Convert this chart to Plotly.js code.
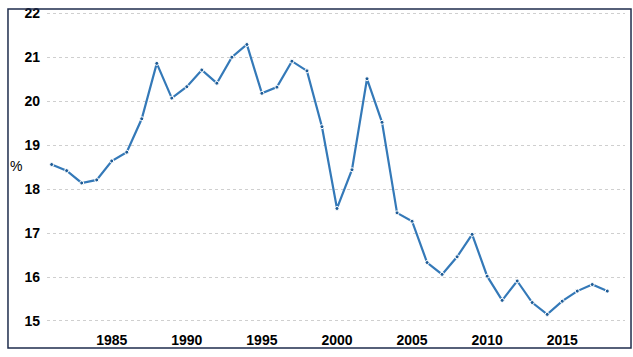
<!DOCTYPE html>
<html>
<head>
<meta charset="utf-8">
<script src="https://cdn.plot.ly/plotly-3.0.1.min.js"></script>
<style>html,body{margin:0;padding:0;background:#fff;}#chart{width:633px;height:357px;}</style>
</head>
<body>
<div id="chart"></div>
<script>
const years = [1981,1982,1983,1984,1985,1986,1987,1988,1989,1990,1991,1992,1993,1994,1995,1996,1997,1998,1999,2000,2001,2002,2003,2004,2005,2006,2007,2008,2009,2010,2011,2012,2013,2014,2015,2016,2017,2018];
const values = [18.56,18.42,18.14,18.21,18.64,18.84,19.60,20.86,20.07,20.33,20.71,20.41,21.00,21.29,20.18,20.32,20.91,20.69,19.42,17.56,18.44,20.51,19.52,17.46,17.27,16.33,16.06,16.46,16.97,16.02,15.47,15.91,15.42,15.15,15.45,15.68,15.83,15.68];
const xTicks = [1985,1990,1995,2000,2005,2010,2015];
const yTicks = [15,16,17,18,19,20,21,22];
const unitLabel = '%';

const trace = {
  x: years, y: values, type: 'scatter', mode: 'lines+markers',
  line: {color: '#3479b8', width: 2.2},
  marker: {color: '#1f5c96', size: 4, line: {color: '#ffffff', width: 1}},
  hoverinfo: 'skip'
};

const layout = {
  width: 633, height: 357,
  margin: {l: 47, r: 8, t: 11, b: 27, pad: 0},
  paper_bgcolor: '#ffffff', plot_bgcolor: '#ffffff',
  showlegend: false,
  font: {family: 'Liberation Sans, Arial, sans-serif', color: '#000'},
  xaxis: {
    range: [1980.69, 2019.18], tickvals: xTicks, ticktext: xTicks.map(String),
    showgrid: false, zeroline: false, showline: false, ticks: '',
    tickfont: {size: 14, weight: 'bold', color: '#000'}, ticklabelstandoff: 0
  },
  yaxis: {
    range: [14.795, 22.052], tickvals: yTicks, ticktext: yTicks.map(String),
    showgrid: true, gridcolor: '#cfcfcf', griddash: 'dot', gridwidth: 1,
    zeroline: false, showline: false, ticks: '',
    tickfont: {size: 14, weight: 'bold', color: '#000'}, ticklabelstandoff: 6
  },
  shapes: [{
    type: 'rect', xref: 'paper', yref: 'paper',
    x0: -0.0675, x1: 1.0104, y0: -0.0564, y1: 1.0063,
    line: {color: '#1f2d4d', width: 1.5}, fillcolor: 'rgba(0,0,0,0)', layer: 'above'
  }],
  annotations: [{
    text: unitLabel, xref: 'paper', yref: 'paper',
    x: -0.0675, y: (330 - 166) / 319, xanchor: 'left', yanchor: 'middle',
    showarrow: false, font: {size: 14, color: '#000'}
  }]
};

Plotly.newPlot('chart', [trace], layout, {displayModeBar: false, staticPlot: true});
</script>
</body>
</html>
